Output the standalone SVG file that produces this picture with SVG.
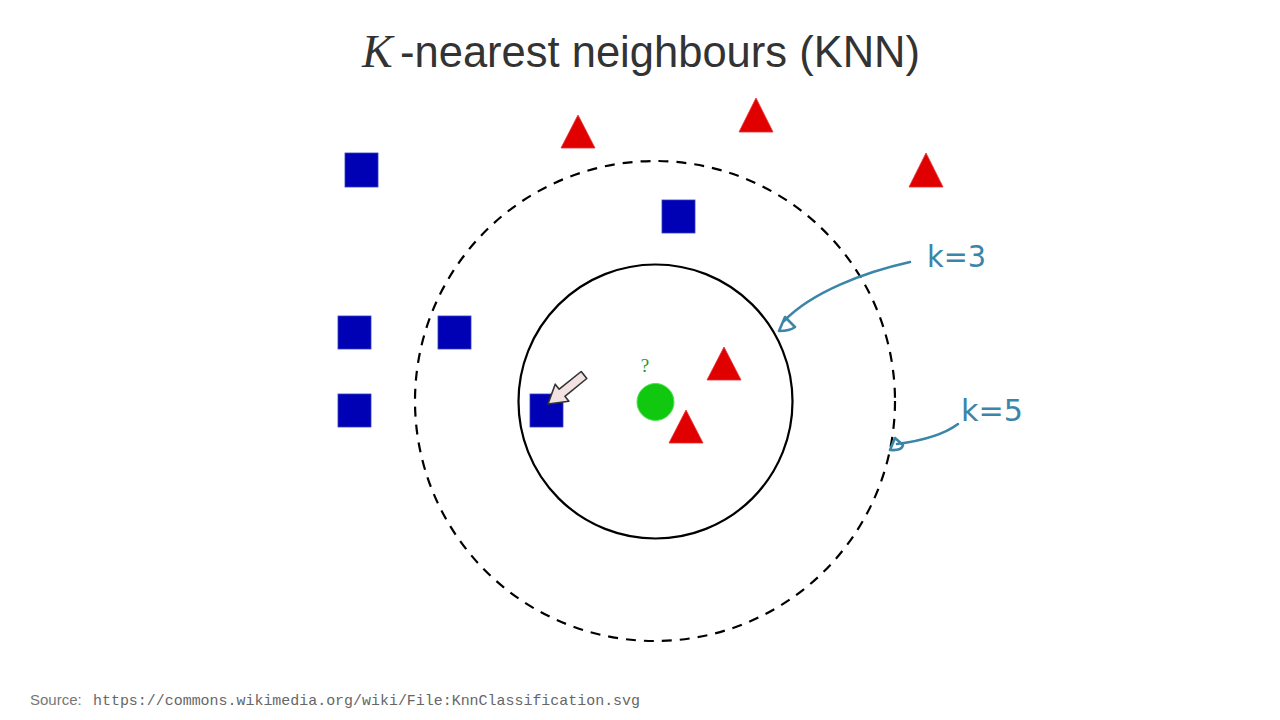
<svg xmlns="http://www.w3.org/2000/svg" width="1280" height="720" viewBox="0 0 1280 720">
<style>
.sq{fill:#0000b4;stroke:#3040c0;stroke-width:0.8}
.tri{fill:#e00000;stroke:#e83030;stroke-width:0.8}
.ann{fill:none;stroke:#3a85a8;stroke-width:2.6;stroke-linecap:round;stroke-linejoin:round}
.annt{fill:#3a85a8;font-family:"DejaVu Sans","Liberation Sans",sans-serif;font-size:30px}
</style>
<rect width="1280" height="720" fill="#ffffff"/>
<g id="title" fill="#333333">
<text x="362" y="67" font-family="Liberation Serif,serif" font-style="italic" font-size="46">K</text>
<text x="400" y="67" font-family="Liberation Sans,Arial,sans-serif" font-size="44" textLength="520" lengthAdjust="spacingAndGlyphs">-nearest neighbours (KNN)</text>
</g>
<g id="circles" fill="none" stroke="#000">
<circle id="k5-circle" cx="655" cy="401" r="240" stroke-width="2.2" stroke-dasharray="10,8"/>
<circle id="k3-circle" cx="655.5" cy="401.5" r="137" stroke-width="2.2"/>
</g>
<g id="squares">
<rect id="sq1" class="sq" x="345" y="153" width="33" height="34"/>
<rect id="sq2" class="sq" x="662" y="200" width="33" height="33"/>
<rect id="sq3" class="sq" x="338" y="316" width="33" height="33"/>
<rect id="sq4" class="sq" x="438" y="316" width="33" height="33"/>
<rect id="sq5" class="sq" x="338" y="394" width="33" height="33"/>
<rect id="sq6" class="sq" x="530" y="394" width="33" height="33"/>
</g>
<g id="triangles">
<polygon id="tr1" class="tri" points="578,115 595,148 561,148"/>
<polygon id="tr2" class="tri" points="756,98 773,132 739,132"/>
<polygon id="tr3" class="tri" points="926,153 943,187 909,187"/>
<polygon id="tr4" class="tri" points="724,347 741,380 707,380"/>
<polygon id="tr5" class="tri" points="686,410 703,443 669,443"/>
</g>
<g id="query">
<circle cx="655.5" cy="402" r="18.5" fill="#10c810" stroke="#50e050" stroke-width="1"/>
<text x="645" y="372" font-family="Liberation Serif,serif" font-size="19" fill="#2a9a2a" text-anchor="middle">?</text>
</g>
<g id="pointer">
<path d="M548,404 L568.9,401.3 L564.9,396.3 L586.8,378.5 L581.2,371.5 L559.2,389.2 L555.2,384.2 Z" fill="#f2e2e2" stroke="#333" stroke-width="1.6" stroke-linejoin="round"/>
</g>
<g id="annotations">
<path class="ann" d="M910,262 C865,272 812,292 784,321"/>
<path class="ann" d="M779,331 L785,317 L795,327 Q790,331 779,331 Z"/>
<path class="ann" d="M958,424 C942,436 920,441 897,444"/>
<path class="ann" d="M890,450 L895,438 L903,445 Q902,451 890,450 Z"/>
<text class="annt" x="927" y="267" textLength="59" lengthAdjust="spacingAndGlyphs">k=3</text>
<text class="annt" x="961" y="421" textLength="62" lengthAdjust="spacingAndGlyphs">k=5</text>
</g>
<g id="source">
<text x="30" y="705" font-family="Liberation Sans,Arial,sans-serif" font-size="15" fill="#777">Source:</text>
<text x="93" y="705" font-family="Liberation Mono,monospace" font-size="15" fill="#666" textLength="547" lengthAdjust="spacingAndGlyphs">https://commons.wikimedia.org/wiki/File:KnnClassification.svg</text>
</g>
</svg>
